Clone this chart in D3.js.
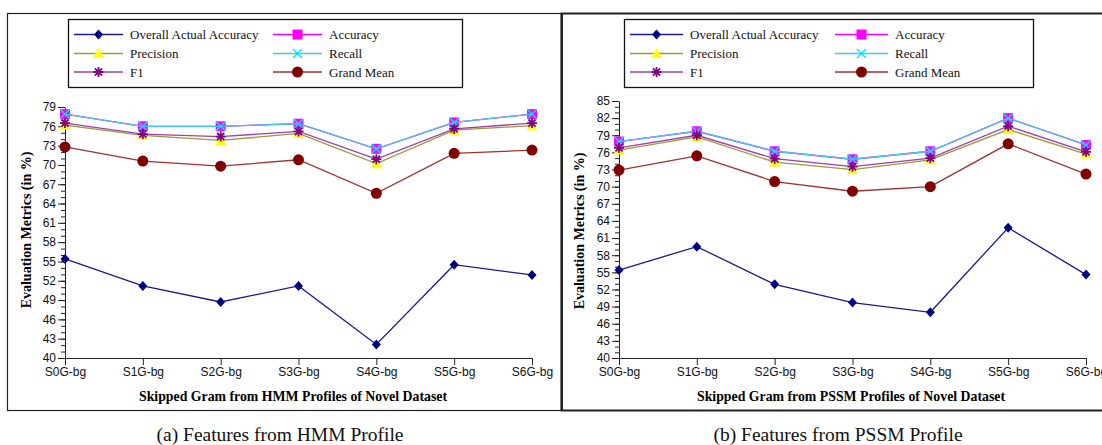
<!DOCTYPE html>
<html>
<head>
<meta charset="utf-8">
<script src="https://cdn.jsdelivr.net/npm/d3@7"></script>
<style>
  html, body { margin: 0; padding: 0; background: #fff; }
  svg { display: block; }
</style>
</head>
<body>
<svg id="chart" width="1102" height="445"></svg>
<script>
// Skipped-gram feature groups on the x axis
const categories = ["S0G-bg", "S1G-bg", "S2G-bg", "S3G-bg", "S4G-bg", "S5G-bg", "S6G-bg"];
const seriesNames = ["Overall Actual Accuracy", "Accuracy", "Precision", "Recall", "F1", "Grand Mean"];

// (a) HMM profile features (%)
const hmmOverall   = [55.4, 51.2, 48.7, 51.2, 42.1, 54.5, 52.9];
const hmmAccuracy  = [77.9, 76.0, 76.0, 76.4, 72.5, 76.6, 77.9];
const hmmPrecision = [76.2, 74.6, 73.8, 74.9, 70.2, 75.4, 76.1];
const hmmRecall    = [77.9, 76.0, 76.0, 76.4, 72.5, 76.6, 77.9];
const hmmF1        = [76.5, 74.8, 74.4, 75.2, 70.9, 75.6, 76.5];
const hmmGrandMean = [72.8, 70.6, 69.8, 70.8, 65.6, 71.8, 72.3];
const hmmTicks = [40, 43, 46, 49, 52, 55, 58, 61, 64, 67, 70, 73, 76, 79];

// (b) PSSM profile features (%)
const pssmOverall   = [55.4, 59.5, 52.9, 49.7, 48.0, 62.8, 54.6];
const pssmAccuracy  = [77.9, 79.7, 76.2, 74.8, 76.2, 82.0, 77.3];
const pssmPrecision = [76.4, 78.7, 74.3, 73.0, 74.7, 80.0, 75.7];
const pssmRecall    = [77.9, 79.7, 76.2, 74.8, 76.2, 82.0, 77.3];
const pssmF1        = [76.8, 79.0, 74.9, 73.5, 75.0, 80.6, 76.1];
const pssmGrandMean = [72.9, 75.4, 70.9, 69.2, 70.0, 77.5, 72.2];
const pssmTicks = [40, 43, 46, 49, 52, 55, 58, 61, 64, 67, 70, 73, 76, 79, 82, 85];

// Visual style of each series: line colour, marker shape and marker fill
const styles = [
  { line: "#1a1a8c", marker: "diamond",  fill: "#000080" },
  { line: "#ff00ff", marker: "square",   fill: "#ff00ff" },
  { line: "#9a9a40", marker: "triangle", fill: "#ffff00" },
  { line: "#40c8f0", marker: "cross",    fill: "#00e5ff" },
  { line: "#a040a0", marker: "star",     fill: "#800080" },
  { line: "#a03030", marker: "circle",   fill: "#800000" }
];

const svg = d3.select("#chart");
const serif = "'Liberation Serif', 'Times New Roman', serif";
const sans = "'Liberation Sans', Arial, sans-serif";

function markerPath(kind) {
  switch (kind) {
    case "diamond":  return "M0,-5L4.5,0L0,5L-4.5,0Z";
    case "square":   return "M-5,-5H5V5H-5Z";
    case "triangle": return "M0,-5.5L5.5,4.5H-5.5Z";
    case "cross":    return "M-4.5,-4.5L4.5,4.5M4.5,-4.5L-4.5,4.5";
    case "star":     return "M0,-5V5M-5,0H5M-3.6,-3.6L3.6,3.6M3.6,-3.6L-3.6,3.6";
    default:         return null;
  }
}

function drawMarker(g, kind, fill, x, y) {
  if (kind === "circle") {
    g.append("circle").attr("cx", x).attr("cy", y).attr("r", 5.5).attr("fill", fill);
  } else if (kind === "cross" || kind === "star") {
    g.append("path").attr("d", markerPath(kind)).attr("transform", `translate(${x},${y})`)
      .attr("fill", "none").attr("stroke", fill).attr("stroke-width", kind === "star" ? 1.8 : 1.4);
  } else {
    g.append("path").attr("d", markerPath(kind)).attr("transform", `translate(${x},${y})`)
      .attr("fill", fill);
  }
}

function drawPanel(opt) {
  const g = svg.append("g");

  // panel frame
  g.append("rect")
    .attr("x", opt.frame[0]).attr("y", opt.frame[1])
    .attr("width", opt.frame[2]).attr("height", opt.frame[3])
    .attr("fill", "none").attr("stroke", "#222").attr("stroke-width", opt.frameWidth);

  const x = d3.scalePoint().domain(categories).range([opt.x0, opt.x1]);
  const y = d3.scaleLinear().domain([opt.yMin, opt.yMax]).range([opt.yBottom, opt.yTop]);

  // minor y ticks (every unit)
  const minor = d3.range(opt.yMin, opt.yMax + 1);
  g.append("g").attr("transform", `translate(${opt.x0},0)`)
    .call(d3.axisLeft(y).tickValues(minor).tickSize(4).tickFormat(""))
    .call(a => a.select(".domain").remove())
    .selectAll("line").attr("stroke", "#222");

  // major y ticks with labels
  const yAxis = g.append("g").attr("transform", `translate(${opt.x0},0)`)
    .call(d3.axisLeft(y).tickValues(opt.ticks).tickSize(7).tickPadding(2).tickSizeOuter(0));
  yAxis.select(".domain").attr("stroke", "#222");
  yAxis.selectAll("line").attr("stroke", "#222");
  yAxis.selectAll("text").attr("font-family", sans).attr("font-size", 12).attr("fill", "#111");

  // x axis
  const xAxis = g.append("g").attr("transform", `translate(0,${opt.yBottom})`)
    .call(d3.axisBottom(x).tickSize(7).tickPadding(2).tickSizeOuter(0));
  xAxis.select(".domain").attr("stroke", "#222").attr("d", `M${opt.x0},0.5H${opt.x1}`);
  xAxis.selectAll("line").attr("stroke", "#222");
  xAxis.selectAll("text").attr("font-family", sans).attr("font-size", 12).attr("fill", "#111");

  // axis titles
  g.append("text")
    .attr("transform", `translate(${opt.yTitleX},${opt.yTitleY}) rotate(-90)`)
    .attr("text-anchor", "middle").attr("font-family", serif).attr("font-weight", "bold")
    .attr("font-size", 14).text("Evaluation Metrics (in %)");
  g.append("text")
    .attr("x", opt.xTitleX).attr("y", opt.xTitleY)
    .attr("text-anchor", "middle").attr("font-family", serif).attr("font-weight", "bold")
    .attr("font-size", 13.8).text(opt.xTitle);

  // series lines and markers
  const line = d3.line().x((d, i) => x(categories[i])).y(d => y(d));
  opt.series.forEach((vals, si) => {
    const st = styles[si];
    g.append("path").datum(vals).attr("d", line)
      .attr("fill", "none").attr("stroke", st.line).attr("stroke-width", 1.3);
    vals.forEach((v, i) => drawMarker(g, st.marker, st.fill, x(categories[i]), y(v)));
  });

  // legend
  const L = opt.legend;
  g.append("rect").attr("x", L.x).attr("y", L.y).attr("width", L.w).attr("height", L.h)
    .attr("fill", "#fff").attr("stroke", "#111").attr("stroke-width", 1.3);
  seriesNames.forEach((name, si) => {
    const col = si % 2, row = Math.floor(si / 2);
    const lx = L.cols[col], ly = L.rows[row];
    const st = styles[si];
    g.append("line").attr("x1", lx).attr("x2", lx + L.lineLen).attr("y1", ly).attr("y2", ly)
      .attr("stroke", st.line).attr("stroke-width", 1.6);
    drawMarker(g, st.marker, st.fill, lx + L.lineLen / 2, ly);
    g.append("text").attr("x", lx + L.lineLen + 7).attr("y", ly + 4.5)
      .attr("font-family", serif).attr("font-size", 13).attr("fill", "#111")
      .text(name);
  });

  // caption under the panel
  g.append("text").attr("x", opt.captionX).attr("y", 441)
    .attr("text-anchor", "middle").attr("font-family", serif).attr("font-size", 19.5)
    .attr("fill", "#111").text(opt.caption);
}

drawPanel({
  frame: [7.5, 13.5, 553.5, 397], frameWidth: 1.2,
  x0: 65, x1: 532, yMin: 40, yMax: 79, yBottom: 358, yTop: 107,
  ticks: hmmTicks,
  series: [hmmOverall, hmmAccuracy, hmmPrecision, hmmRecall, hmmF1, hmmGrandMean],
  yTitleX: 31, yTitleY: 230,
  xTitle: "Skipped Gram from HMM Profiles of Novel Dataset", xTitleX: 293, xTitleY: 401,
  legend: { x: 68.5, y: 19.5, w: 394, h: 68, cols: [74, 273], rows: [34.5, 53.5, 72], lineLen: 49 },
  captionX: 280, caption: "(a) Features from HMM Profile"
});

drawPanel({
  frame: [562, 13.5, 560, 397], frameWidth: 2,
  x0: 619, x1: 1086, yMin: 40, yMax: 85, yBottom: 358, yTop: 101,
  ticks: pssmTicks,
  series: [pssmOverall, pssmAccuracy, pssmPrecision, pssmRecall, pssmF1, pssmGrandMean],
  yTitleX: 584, yTitleY: 231,
  xTitle: "Skipped Gram from PSSM Profiles of Novel Dataset", xTitleX: 851, xTitleY: 401,
  legend: { x: 624.5, y: 19.5, w: 409, h: 68, cols: [630, 835], rows: [34.5, 53.5, 72], lineLen: 53 },
  captionX: 838, caption: "(b) Features from PSSM Profile"
});
</script>
</body>
</html>
